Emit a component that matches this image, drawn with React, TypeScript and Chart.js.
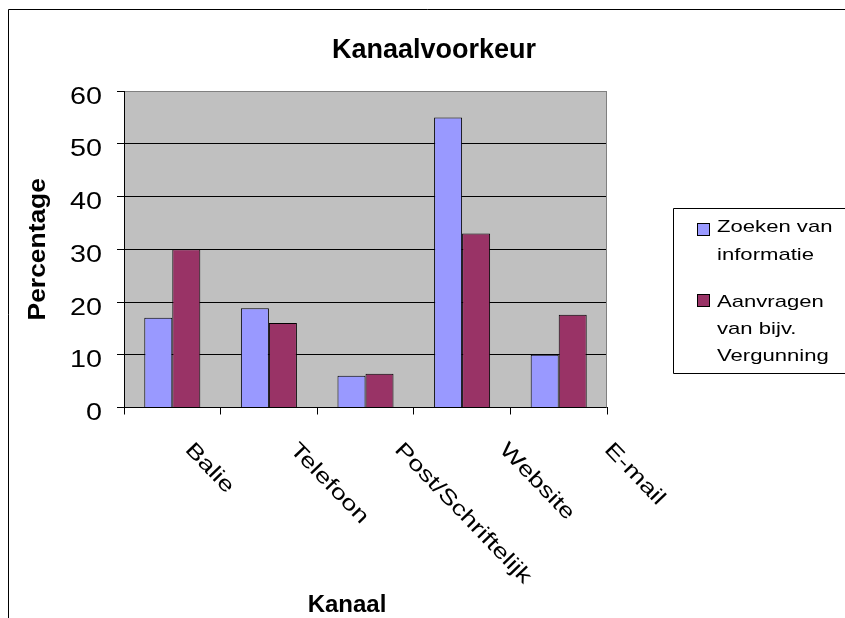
import React, { useEffect, useRef } from 'react';
import { Chart, registerables } from 'chart.js';
Chart.register(...registerables);

const categories = ['Balie', 'Telefoon', 'Post/Schriftelijk', 'Website', 'E-mail'];
const zoekenValues = [17, 18.8, 6, 55, 10];
const aanvragenValues = [30, 16, 6.4, 33, 17.6];
const seriesNames = ['Zoeken van informatie', 'Aanvragen van bijv. Vergunning'];
const legendLines = [['Zoeken van', 'informatie'], ['Aanvragen', 'van bijv.', 'Vergunning']];
const seriesColors = ['#9999ff', '#993366'];
const yTickValues = [0, 10, 20, 30, 40, 50, 60];
const chartTitle = 'Kanaalvoorkeur';
const xAxisTitle = 'Kanaal';
const yAxisTitle = 'Percentage';

const FONT = '"Liberation Sans", Arial, Helvetica, sans-serif';

function stretchedText(ctx: CanvasRenderingContext2D, text: string, x: number, y: number, k: number, angle: number, align: CanvasTextAlign, dy = 0) {
  ctx.save();
  ctx.translate(x, y);
  ctx.rotate(angle);
  ctx.scale(k, 1);
  ctx.textAlign = align;
  ctx.textBaseline = 'alphabetic';
  ctx.fillText(text, 0, dy);
  ctx.restore();
}

const decor = {
  id: 'decor',
  beforeDraw(chart: any) {
    const { ctx, chartArea: a } = chart;
    ctx.save();
    ctx.fillStyle = '#ffffff';
    ctx.fillRect(0, 0, chart.width, chart.height);
    ctx.fillStyle = '#c0c0c0';
    ctx.fillRect(a.left, a.top, a.right - a.left, a.bottom - a.top);
    ctx.restore();
  },
  beforeDatasetsDraw(chart: any) {
    const { ctx, chartArea: a } = chart;
    ctx.save();
    ctx.strokeStyle = '#808080';
    ctx.lineWidth = 1;
    ctx.beginPath();
    const rx = Math.round(a.right) - 0.5;
    ctx.moveTo(rx, a.top);
    ctx.lineTo(rx, a.bottom);
    ctx.stroke();
    ctx.restore();
  },
  afterDraw(chart: any) {
    const { ctx, chartArea: a } = chart;
    const xs = chart.scales.x;
    const ys = chart.scales.y;
    ctx.save();
    ctx.fillStyle = '#000';

    // outer frame
    ctx.strokeStyle = '#000';
    ctx.lineWidth = 1;
    ctx.beginPath();
    ctx.moveTo(8.5, chart.height + 2);
    ctx.lineTo(8.5, 9.5);
    ctx.lineTo(chart.width + 2, 9.5);
    ctx.stroke();

    // title
    ctx.font = `bold 27px ${FONT}`;
    ctx.textAlign = 'center';
    ctx.textBaseline = 'alphabetic';
    ctx.fillText(chartTitle, 434, 58);

    // y tick labels
    ctx.font = `23px ${FONT}`;
    ys.ticks.forEach((t: any) => {
      const py = ys.getPixelForValue(t.value);
      stretchedText(ctx, String(t.value), 102, py + 12.7, 1.25, 0, 'right');
    });

    // x tick labels (rotated)
    const xs_ = 21;
    ctx.font = `${xs_}px ${FONT}`;
    categories.forEach((c, i) => {
      const cx = xs.getPixelForValue(i);
      const tx = a.left + (cx - a.left) * 1.085 + 18.6;
      stretchedText(ctx, c, tx, 440, 1.3, (46 * Math.PI) / 180, 'left', 0.716 * xs_);
    });

    // axis titles
    ctx.font = `bold 24px ${FONT}`;
    stretchedText(ctx, yAxisTitle, 45, (a.top + a.bottom) / 2, 1.1, -Math.PI / 2, 'center');
    ctx.textAlign = 'center';
    ctx.fillText(xAxisTitle, 347, 612);

    // legend
    ctx.strokeStyle = '#000';
    ctx.beginPath();
    ctx.moveTo(chart.width + 2, 208.5);
    ctx.lineTo(673.5, 208.5);
    ctx.lineTo(673.5, 373.5);
    ctx.lineTo(chart.width + 2, 373.5);
    ctx.stroke();
    const swatchY = [223.5, 294.5];
    const baselines = [[232, 260], [307, 334, 361]];
    ctx.font = `17px ${FONT}`;
    legendLines.forEach((lines, si) => {
      ctx.fillStyle = seriesColors[si];
      ctx.fillRect(697.5, swatchY[si], 12, 12);
      ctx.strokeRect(697.5, swatchY[si], 12, 12);
      ctx.fillStyle = '#000';
      lines.forEach((ln, li) => {
        stretchedText(ctx, ln, 717, baselines[si][li], 1.3, 0, 'left');
      });
    });
    ctx.restore();
  },
};

export default function App() {
  const ref = useRef<HTMLCanvasElement | null>(null);
  useEffect(() => {
    if (!ref.current) return;
    const chart = new Chart(ref.current, {
      type: 'bar',
      data: {
        labels: categories,
        datasets: [
          {
            label: seriesNames[0],
            data: zoekenValues,
            backgroundColor: seriesColors[0],
            borderColor: '#000',
            borderWidth: 1,
            barPercentage: 1,
            categoryPercentage: 0.58,
          },
          {
            label: seriesNames[1],
            data: aanvragenValues,
            backgroundColor: seriesColors[1],
            borderColor: '#000',
            borderWidth: 1,
            barPercentage: 1,
            categoryPercentage: 0.58,
          },
        ],
      },
      options: {
        responsive: false,
        animation: false,
        devicePixelRatio: 1,
        layout: { padding: { left: 100, right: 238, top: 91, bottom: 190.5 } },
        plugins: {
          legend: { display: false },
          title: { display: false },
          tooltip: { enabled: false },
        },
        scales: {
          x: {
            type: 'category',
            offset: true,
            grid: {
              offset: true,
              drawOnChartArea: false,
              drawTicks: true,
              tickLength: 7,
              color: '#000',
              tickColor: '#000',
            },
            border: { display: true, color: '#000', width: 1 },
            ticks: { display: false },
            afterFit: (s: any) => {
              s.height = 20;
            },
          },
          y: {
            min: 0,
            max: 60,
            grid: {
              color: (c: any) => (c.tick && c.tick.value === 60 ? '#808080' : '#000'),
              tickColor: '#000',
              drawTicks: true,
              tickLength: 7,
            },
            border: { display: true, color: '#000', width: 1 },
            ticks: { display: false, stepSize: 10 },
            afterBuildTicks: (s: any) => {
              s.ticks = yTickValues.map((v) => ({ value: v }));
            },
            afterFit: (s: any) => {
              s.width = 24;
            },
          },
        },
      },
      plugins: [decor],
    } as any);
    return () => chart.destroy();
  }, []);
  return (
    <canvas
      ref={ref}
      width={845}
      height={618}
      style={{ position: 'fixed', left: 0, top: 0, width: 845, height: 618 }}
    />
  );
}
